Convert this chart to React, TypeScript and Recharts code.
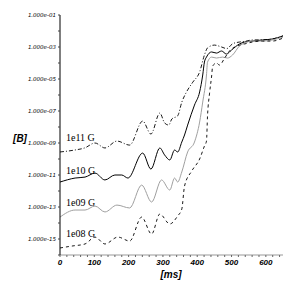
import React from 'react';
import { LineChart, Line, XAxis, YAxis, Customized } from 'recharts';

// time axis (ms)
const xMajor = [0, 100, 200, 300, 400, 500, 600];
const xTicks = [0, 20, 40, 60, 80, 100, 120, 140, 160, 180, 200, 220, 240, 260, 280, 300, 320, 340, 360, 380, 400, 420, 440, 460, 480, 500, 520, 540, 560, 580, 600, 620, 640];
// log10 of B for y ticks
const yTickExp = [-16, -15, -14, -13, -12, -11, -10, -9, -8, -7, -6, -5, -4, -3, -2, -1];
const yLabelExp = [-1, -3, -5, -7, -9, -11, -13, -15];

const seriesNames = ['1e11 G', '1e10 G', '1e09 G', '1e08 G'];

// 1e11 G (dash-dot)
const t11 = [0, 40, 73, 102, 131, 166, 203, 241, 265, 291, 305, 317, 326, 343, 355, 369, 387, 407, 421, 430, 450, 471, 486, 503, 523, 538, 561, 590, 619, 640, 650];
const e11 = [-9.56, -9.45, -9.3, -9.0, -9.31, -8.88, -9.13, -7.63, -8.44, -7.13, -7.75, -7.88, -7.5, -7.3, -6.45, -5.8, -5.2, -4.56, -3.5, -3.06, -2.88, -3.0, -3.1, -2.8, -2.69, -2.65, -2.56, -2.55, -2.5, -2.38, -2.3];

// 1e10 G (solid)
const t10 = [0, 44, 73, 102, 131, 160, 180, 198, 241, 265, 291, 305, 320, 334, 343, 355, 363, 372, 392, 407, 416, 421, 427, 442, 456, 471, 485, 500, 523, 538, 561, 590, 619, 650];
const e10 = [-11.44, -11.19, -11.13, -10.88, -11.31, -11.0, -11.0, -11.19, -9.63, -10.63, -9.31, -9.75, -10.06, -9.44, -9.56, -8.94, -8.5, -7.88, -6.63, -5.81, -4.75, -3.94, -3.63, -3.31, -3.38, -3.25, -3.44, -3.19, -2.81, -2.69, -2.63, -2.56, -2.5, -2.31];

// 1e09 G (light dotted)
const t09 = [0, 44, 73, 102, 131, 166, 203, 238, 267, 296, 320, 334, 343, 355, 372, 392, 407, 416, 427, 430, 442, 456, 474, 488, 503, 523, 538, 561, 590, 619, 650];
const e09 = [-13.63, -13.19, -13.19, -12.94, -13.31, -12.88, -13.06, -11.63, -12.69, -11.31, -11.94, -11.19, -11.44, -10.81, -9.56, -8.94, -7.69, -6.44, -4.75, -3.94, -3.63, -3.69, -3.63, -3.69, -3.5, -2.94, -2.75, -2.63, -2.63, -2.56, -2.38];

// 1e08 G (dashed)
const t08 = [0, 35, 73, 102, 131, 169, 203, 238, 267, 291, 320, 343, 355, 363, 384, 407, 421, 427, 430, 436, 442, 445, 456, 465, 480, 494, 515, 538, 561, 590, 619, 650];
const e08 = [-15.56, -15.44, -15.31, -14.88, -15.31, -14.88, -15.13, -13.63, -14.69, -13.44, -14.06, -13.56, -13.13, -11.69, -10.75, -10.0, -9.19, -8.88, -7.31, -5.88, -4.81, -4.19, -4.0, -4.13, -3.69, -3.25, -2.94, -2.81, -2.69, -2.63, -2.63, -2.44];

const build = (t: number[], e: number[]) => t.map((v, i) => ({ t: v, b: Math.pow(10, e[i]) }));
const d11 = build(t11, e11);
const d10 = build(t10, e10);
const d09 = build(t09, e09);
const d08 = build(t08, e08);

const yTicks = yTickExp.map((e) => Math.pow(10, e));
const yFmt = (v: number) => {
  const e = Math.round(Math.log10(v));
  return yLabelExp.includes(e) ? `1.000e-${String(-e).padStart(2, '0')}` : '';
};
const xFmt = (v: number) => (xMajor.includes(v) ? String(v) : '');

const labelPos = [141, 174, 206, 237];

const Labels = () => (
  <g>
    {seriesNames.map((n, i) => (
      <text key={n} x={66} y={labelPos[i]} fontFamily="Liberation Serif" fontSize={10} fill="#000">
        {n}
      </text>
    ))}
    <text x={20} y={142} textAnchor="middle" fontFamily="Liberation Sans" fontWeight="bold" fontStyle="italic" fontSize={10} fill="#000">[B]</text>
    <text x={171} y={278} textAnchor="middle" fontFamily="Liberation Sans" fontWeight="bold" fontStyle="italic" fontSize={10} fill="#000">[ms]</text>
  </g>
);

const domainY: [number, number] = [1e-16, 1e-1];

export default function App() {
  return (
    <div style={{ position: 'absolute', left: 0, top: 0, width: 299, height: 299, background: '#fff' }}>
      <LineChart width={299} height={299} margin={{ top: 15, right: 16, left: 0, bottom: 0 }}>
        <XAxis
          xAxisId="b"
          type="number"
          dataKey="t"
          domain={[0, 650]}
          allowDataOverflow
          ticks={xTicks}
          tickFormatter={xFmt}
          interval={0}
          height={44}
          tickSize={2}
          tickMargin={2}
          axisLine={{ stroke: '#999' }}
          tickLine={{ stroke: '#666' }}
          tick={{ fontSize: 8, fontWeight: 'bold', fontStyle: 'italic', fontFamily: 'Liberation Sans', fill: '#000' }}
        />
        <XAxis
          xAxisId="top"
          orientation="top"
          type="number"
          dataKey="t"
          domain={[0, 650]}
          allowDataOverflow
          ticks={xTicks}
          interval={0}
          height={0}
          tickSize={2}
          tick={false}
          axisLine={{ stroke: '#000' }}
          tickLine={{ stroke: '#444' }}
        />
        <YAxis
          yAxisId="l"
          type="number"
          scale="log"
          domain={domainY}
          allowDataOverflow
          ticks={yTicks}
          tickFormatter={yFmt}
          interval={0}
          width={60}
          tickSize={2}
          tickMargin={2}
          axisLine={{ stroke: '#000' }}
          tickLine={{ stroke: '#444' }}
          tick={{ fontSize: 5.5, fontStyle: 'italic', fontFamily: 'DejaVu Sans', fill: '#000' }}
        />
        <YAxis
          yAxisId="r"
          orientation="right"
          type="number"
          scale="log"
          domain={domainY}
          allowDataOverflow
          ticks={yTicks}
          interval={0}
          width={0}
          tickSize={2}
          tick={false}
          axisLine={{ stroke: '#000' }}
          tickLine={{ stroke: '#444' }}
        />
        <Line xAxisId="b" yAxisId="l" data={d11} dataKey="b" type="monotone" dot={false} stroke="#000" strokeWidth={0.9} strokeDasharray="4 2 1 2" isAnimationActive={false} />
        <Line xAxisId="b" yAxisId="l" data={d10} dataKey="b" type="monotone" dot={false} stroke="#000" strokeWidth={1} isAnimationActive={false} />
        <Line xAxisId="b" yAxisId="l" data={d09} dataKey="b" type="monotone" dot={false} stroke="#a0a0a0" strokeWidth={1} isAnimationActive={false} />
        <Line xAxisId="b" yAxisId="l" data={d08} dataKey="b" type="monotone" dot={false} stroke="#000" strokeWidth={0.9} strokeDasharray="3 3" isAnimationActive={false} />
        <Customized component={<Labels />} />
      </LineChart>
    </div>
  );
}
